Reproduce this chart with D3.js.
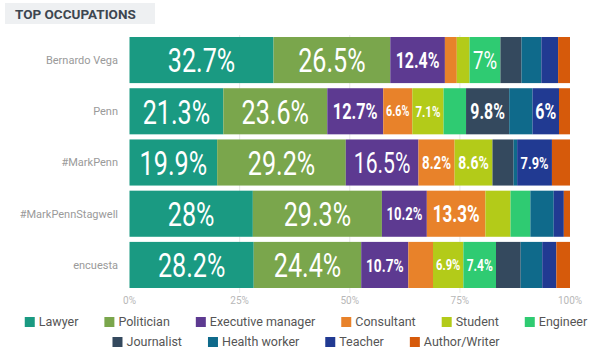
<!DOCTYPE html>
<html>
<head>
    <meta charset="UTF-8">
    <title>Top Occupations</title>
    <style>
        body { margin: 0; background: #fff; }
        svg { display: block; }
    </style>
</head>
<body>
    <svg></svg>
    <script src="https://d3js.org/d3.v7.min.js"></script>
    <script>
        let width = 610, height = 360;

        // data (percent of each account)
        let accounts = ["Bernardo Vega", "Penn", "#MarkPenn", "#MarkPennStagwell", "encuesta"];
        let occupations = ["Lawyer", "Politician", "Executive manager", "Consultant", "Student",
                           "Engineer", "Journalist", "Health worker", "Teacher", "Author/Writer"];
        let lawyer     = [32.7, 21.3, 19.9, 28.0, 28.2];
        let politician = [26.5, 23.6, 29.2, 29.3, 24.4];
        let executive  = [12.4, 12.7, 16.5, 10.2, 10.7];
        let consultant = [2.7, 6.6, 8.2, 13.3, 5.6];
        let student    = [2.9, 7.1, 8.6, 5.7, 6.9];
        let engineer   = [7.0, 5.1, 0.0, 4.5, 7.4];
        let journalist = [4.8, 9.8, 4.8, 0.0, 5.6];
        let health     = [4.5, 5.3, 0.8, 5.3, 4.9];
        let teacher    = [3.8, 6.0, 7.9, 2.3, 3.2];
        let author     = [2.7, 2.5, 4.1, 1.4, 3.1];
        let ticks = [0, 25, 50, 75, 100];

        let colors = ["#1a9a82", "#7aa64c", "#5d3a91", "#e8822a", "#b3cb19",
                      "#2fcb72", "#34495e", "#0f6a8b", "#213a92", "#d65a0b"];

        let series = [lawyer, politician, executive, consultant, student,
                      engineer, journalist, health, teacher, author];

        let rows = accounts.map((a, i) => {
            let r = { account: a };
            occupations.forEach((o, j) => r[o] = series[j][i]);
            return r;
        });

        let svg = d3.select("svg")
            .attr("width", width)
            .attr("height", height)
            .style("font-family", "Roboto, sans-serif");

        // title box
        svg.append("rect")
            .attr("x", 5).attr("y", 3)
            .attr("width", 150).attr("height", 21)
            .attr("fill", "#eef0f2");
        svg.append("text")
            .attr("x", 15).attr("y", 19)
            .attr("font-size", "13.5px")
            .attr("font-weight", "bold")
            .attr("fill", "#3d4650")
            .text("TOP OCCUPATIONS");

        let x = d3.scaleLinear().domain([0, 100]).range([129.5, 570]);
        let y = d3.scaleBand().domain(accounts).range([37, 288]).paddingInner(0.1).paddingOuter(0);

        // grid
        svg.append("g")
            .selectAll("line")
            .data(ticks.slice(1, 4))
            .enter()
            .append("line")
            .attr("x1", d => x(d)).attr("x2", d => x(d))
            .attr("y1", 35).attr("y2", 293)
            .attr("stroke", "#e8e8e8");

        let stack = d3.stack().keys(occupations)(rows);

        let layers = svg.append("g")
            .selectAll("g")
            .data(stack)
            .enter()
            .append("g")
            .attr("fill", (d, i) => colors[i]);

        layers.selectAll("rect")
            .data(d => d)
            .enter()
            .append("rect")
            .attr("x", d => x(d[0]))
            .attr("y", d => y(d.data.account))
            .attr("width", d => x(d[1]) - x(d[0]))
            .attr("height", y.bandwidth());

        // value labels, squeezed horizontally (condensed look) and sized to fit
        let sx = 0.74;
        let labels = [];
        stack.forEach(layer => layer.forEach(d => {
            let v = d[1] - d[0];
            if (v >= 6) labels.push({ v: v, x0: x(d[0]), x1: x(d[1]), acc: d.data.account });
        }));

        svg.append("g")
            .selectAll("text")
            .data(labels)
            .enter()
            .append("text")
            .attr("transform", d => "translate(" + ((d.x0 + d.x1) / 2) + "," + (y(d.acc) + y.bandwidth() / 2) + ") scale(" + sx + ",1)")
            .attr("text-anchor", "middle")
            .attr("dy", "0.36em")
            .attr("fill", "#fff")
            .attr("font-size", "34px")
            .text(d => d3.format("~")(+d.v.toFixed(1)) + "%")
            .each(function(d) {
                let len = this.getComputedTextLength() * sx;
                let fs = Math.min(34, 34 * 0.78 * (d.x1 - d.x0) / len);
                d3.select(this)
                    .attr("font-size", fs + "px")
                    .attr("font-weight", fs < 24 ? "bold" : "normal");
            });

        // account labels
        svg.append("g")
            .selectAll("text")
            .data(accounts)
            .enter()
            .append("text")
            .attr("x", 118)
            .attr("y", d => y(d) + y.bandwidth() / 2)
            .attr("dy", "0.35em")
            .attr("text-anchor", "end")
            .attr("font-size", "11px")
            .attr("fill", "#9a9a9a")
            .text(d => d);

        // x axis labels
        svg.append("g")
            .selectAll("text")
            .data(ticks)
            .enter()
            .append("text")
            .attr("x", d => x(d))
            .attr("y", 304)
            .attr("text-anchor", "middle")
            .attr("font-size", "10px")
            .attr("fill", "#b8b8b8")
            .text(d => d + "%");

        // legend, two centred rows
        let legendRows = [occupations.slice(0, 6), occupations.slice(6)];
        legendRows.forEach((items, r) => {
            let g = svg.append("g");
            let cx = 0;
            items.forEach(name => {
                let item = g.append("g").attr("transform", "translate(" + cx + ",0)");
                item.append("rect")
                    .attr("x", 0).attr("y", -5)
                    .attr("width", 10).attr("height", 10)
                    .attr("fill", colors[occupations.indexOf(name)]);
                let t = item.append("text")
                    .attr("x", 14).attr("dy", "0.35em")
                    .attr("font-size", "12.5px")
                    .attr("fill", "#555")
                    .text(name);
                cx += 14 + t.node().getComputedTextLength() + 26;
            });
            let w = cx - 26;
            g.attr("transform", "translate(" + (306 - w / 2) + "," + (322 + r * 20) + ")");
        });
    </script>
</body>
</html>
